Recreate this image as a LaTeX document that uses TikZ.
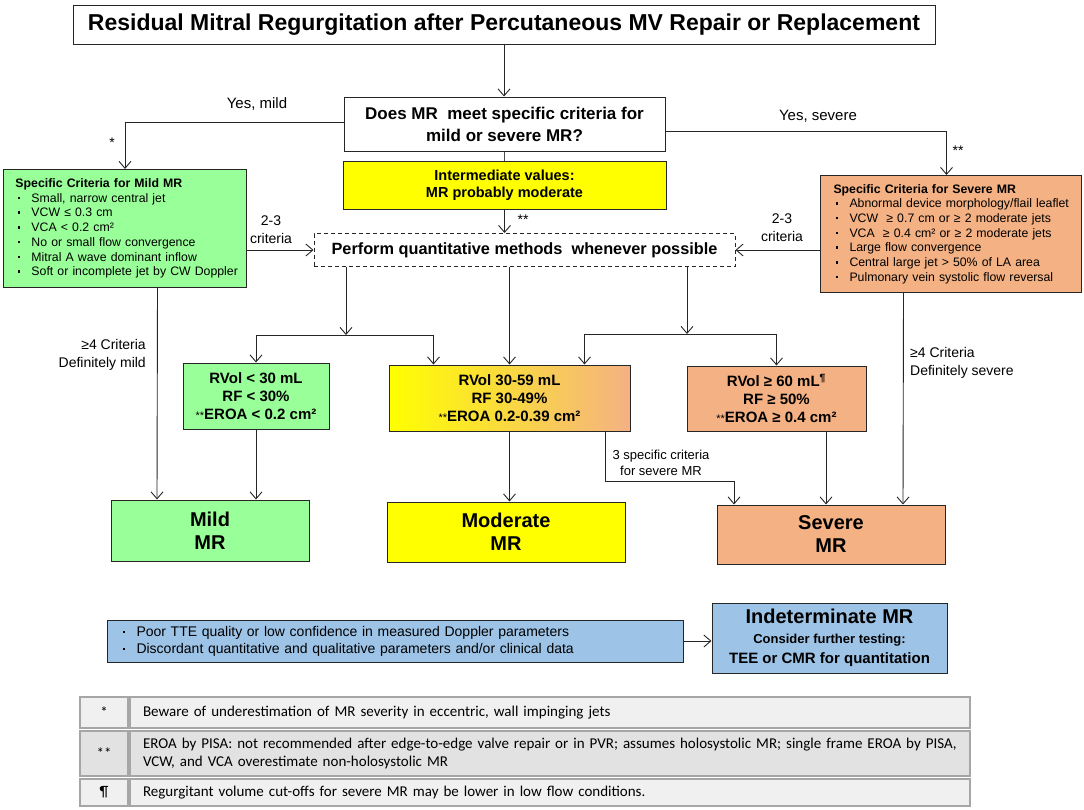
\documentclass[tikz,border=0pt]{standalone}
\usepackage{fontspec}
\setmainfont{Liberation Sans}
\newfontfamily\notefont{Carlito}
\usetikzlibrary{arrows.meta}

\definecolor{mildgreen}{RGB}{153,255,153}
\definecolor{sevpeach}{RGB}{244,177,131}
\definecolor{modyellow}{RGB}{255,255,0}
\definecolor{indblue}{RGB}{157,195,230}
\definecolor{notegray}{RGB}{166,166,166}
\definecolor{rowlight}{RGB}{240,240,240}
\definecolor{rowdark}{RGB}{226,226,226}

\newcommand{\fsz}[2]{\fontsize{#1pt}{#2pt}\selectfont}
\newcommand{\crit}[1]{\hspace*{2pt}\makebox[14pt][l]{\rule[3pt]{2.5pt}{2.5pt}}\mbox{#1}}

\begin{document}
\begin{tikzpicture}[x=1pt, y=-1pt,
    box/.style={draw=black!85, line width=1pt, inner sep=0pt, align=center},
    critbox/.style={draw=black!85, line width=1pt, anchor=north west, inner xsep=12pt, inner ysep=0pt, align=left, font=\fsz{12.3}{14.7}},
    lbl/.style={inner sep=0pt, align=center, font=\fsz{14}{18}},
    arr/.style={draw=black!85, line width=0.9pt, -{Straight Barb[length=7pt,width=12pt,line width=0.9pt]}},
    plain/.style={draw=black!70, line width=0.9pt},
    cell/.style={draw=notegray, line width=2pt, inner sep=0pt, font=\notefont\fsz{15}{18}}]
        \useasboundingbox (0,0) rectangle (1084,809);

        % top of the chart
        \node[box, minimum width=862, minimum height=39, font=\bfseries\fsz{23}{26}] (title) at (504,24.5) {Residual Mitral Regurgitation after Percutaneous MV Repair or Replacement};
        \node[box, minimum width=321, minimum height=54, font=\bfseries\fsz{17}{22}] (question) at (504.5,124) {Does MR\ \ meet specific criteria for\\mild or severe MR?};
        \node[box, fill=modyellow, minimum width=323, minimum height=48, font=\bfseries\fsz{14.5}{17}] (inter) at (504.5,185) {Intermediate values:\\MR probably moderate};
        \node[box, dashed, dash pattern=on 4pt off 3pt, minimum width=421, minimum height=33, font=\bfseries\fsz{16.3}{18}] (perform) at (524.5,250) {Perform quantitative methods\ \ whenever possible};

        % criteria boxes
        \node[critbox, fill=mildgreen, text width=219, minimum height=118] (mildcrit) at (3,169) {\textbf{Specific Criteria for Mild MR}\\\crit{Small, narrow central jet}\\\crit{VCW ≤ 0.3 cm}\\\crit{VCA < 0.2 cm²}\\\crit{No or small flow convergence}\\\crit{Mitral A wave dominant inflow}\\\crit{Soft or incomplete jet by CW Doppler}};
        \node[critbox, fill=sevpeach, inner xsep=13pt, text width=235, minimum height=117] (sevcrit) at (820,175) {\textbf{Specific Criteria for Severe MR}\\\crit{Abnormal device morphology/flail leaflet}\\\crit{VCW\ \ ≥ 0.7 cm or ≥ 2 moderate jets}\\\crit{VCA\ \ ≥ 0.4 cm² or ≥ 2 moderate jets}\\\crit{Large flow convergence}\\\crit{Central large jet > 50\% of LA area}\\\crit{Pulmonary vein systolic flow reversal}};

        % quantitative results
        \node[box, fill=mildgreen, minimum width=146, minimum height=66, font=\bfseries\fsz{15}{18}] (mildq) at (256,396) {RVol < 30 mL\\RF < 30\%\\{\mdseries\fsz{11}{11}**}EROA < 0.2 cm²};
        \node[box, left color=modyellow, right color=sevpeach, minimum width=241, minimum height=66, font=\bfseries\fsz{15}{18}] (modq) at (509.5,398) {RVol 30-59 mL\\RF 30-49\%\\{\mdseries\fsz{11}{11}**}EROA 0.2-0.39 cm²};
        \node[box, fill=sevpeach, minimum width=179, minimum height=65, font=\bfseries\fsz{15}{18}] (sevq) at (776.5,398.5) {RVol ≥ 60 mL\textsuperscript{¶}\\RF ≥ 50\%\\{\mdseries\fsz{11}{11}**}EROA ≥ 0.4 cm²};

        % grades
        \node[box, fill=mildgreen, minimum width=198, minimum height=61, font=\bfseries\fsz{20}{23}] (mild) at (210,530.5) {Mild\\MR};
        \node[box, fill=modyellow, minimum width=238, minimum height=60, font=\bfseries\fsz{20}{23}] (moderate) at (506,532) {Moderate\\MR};
        \node[box, fill=sevpeach, minimum width=228, minimum height=59, font=\bfseries\fsz{20}{23}] (severe) at (831,534.5) {Severe\\MR};

        % indeterminate
        \node[draw=black!85, line width=1pt, fill=indblue, anchor=west, inner xsep=13pt, inner ysep=0pt, text width=550, minimum height=42, align=left, font=\fsz{14}{17}] (blue) at (107,641) {\crit{Poor TTE quality or low confidence in measured Doppler parameters}\\\crit{Discordant quantitative and qualitative parameters and/or clinical data}};
        \node[box, fill=indblue, minimum width=235, minimum height=70, font=\bfseries\fsz{15}{20}] (indet) at (829.5,638) {{\fsz{20}{22}Indeterminate MR}\\{\fsz{13}{19}Consider further testing:}\\TEE or CMR for quantitation};

        % labels
        \node[lbl, font=\fsz{15}{18}] (yesmild) at (257,104) {Yes, mild};
        \node[lbl, font=\fsz{15}{18}] (yessev) at (818,116) {Yes, severe};
        \node[lbl, font=\fsz{14}{14}] (star1) at (112,143) {*};
        \node[lbl, font=\fsz{14}{14}] (star2) at (958,151) {**};
        \node[lbl, font=\fsz{14}{14}] (star3) at (523,220) {**};
        \node[lbl] (lcrit) at (271,230) {2-3\\criteria};
        \node[lbl] (rcrit) at (782,228) {2-3\\criteria};
        \node[lbl, anchor=east, align=right] (mildfour) at (146,355) {≥4 Criteria\\Definitely mild};
        \node[lbl, anchor=west, align=left] (sevfour) at (910,363) {≥4 Criteria\\Definitely severe};
        \node[lbl, font=\fsz{13}{16}] (three) at (661,463) {3 specific criteria\\for severe MR};

        % connectors
        \coordinate (lsplit) at (346,335);
        \coordinate (rsplit) at (687,334);
        \coordinate (sevturn) at (734,481);
        \draw[arr] (title.south) -- (title.south |- question.north);
        \draw[arr] ([yshift=2]question.west) -| (mildcrit.north);
        \draw[arr] ([yshift=-7]question.east) -| ([xshift=-4.5]sevcrit.north);
        \draw[plain] (question.south) -- (inter.north);
        \draw[arr] (inter.south) -- (inter.south |- perform.north);
        \draw[arr] (mildcrit.east |- perform.west) -- (perform.west);
        \draw[arr] (sevcrit.west |- perform.east) -- (perform.east);
        \draw[arr] (perform.south -| lsplit) -- (lsplit);
        \draw[arr] (lsplit) -| (mildq.north);
        \draw[arr] (lsplit) -| ([xshift=-76]modq.north);
        \draw[arr] (perform.south -| modq.north) -- (modq.north);
        \draw[arr] (perform.south -| rsplit) -- (rsplit);
        \draw[arr] (rsplit) -| ([xshift=75]modq.north);
        \draw[arr] (rsplit) -| (sevq.north);
        \draw[arr] ([xshift=32.5]mildcrit.south) -- ([xshift=-53]mild.north);
        \draw[arr] (mildq.south) -- (mildq.south |- mild.north);
        \draw[arr] (modq.south) -- (modq.south |- moderate.north);
        \draw[arr] ([xshift=95.5]modq.south) |- (sevturn) -- (sevturn |- severe.north);
        \draw[arr] ([xshift=49.5]sevq.south) -- ([xshift=-5]severe.north);
        \draw[arr] ([xshift=-47.5]sevcrit.south) -- ([xshift=72]severe.north);
        \draw[arr] (blue.east) -- (blue.east -| indet.west);

        % footnotes
        \node[cell, fill=rowlight, minimum width=48, minimum height=31] (sym1) at (104,712.5) {*};
        \node[cell, fill=rowlight, anchor=west, inner xsep=13pt, text width=814, minimum height=31, align=left] (note1) at (sym1.east) {Beware of underestimation of MR severity in eccentric, wall impinging jets};
        \node[cell, fill=rowdark, minimum width=48, minimum height=45] (sym2) at (104,753) {**};
        \node[cell, fill=rowdark, anchor=west, inner xsep=13pt, text width=814, minimum height=45, align=left] (note2) at (sym2.east) {EROA by PISA: not recommended after edge-to-edge valve repair or in PVR; assumes holosystolic MR; single frame EROA by PISA,\\VCW, and VCA overestimate non-holosystolic MR};
        \node[cell, fill=rowlight, minimum width=48, minimum height=27] (sym3) at (104,792.5) {¶};
        \node[cell, fill=rowlight, anchor=west, inner xsep=13pt, text width=814, minimum height=27, align=left] (note3) at (sym3.east) {Regurgitant volume cut-offs for severe MR may be lower in low flow conditions.};
    \end{tikzpicture}
\end{document}
